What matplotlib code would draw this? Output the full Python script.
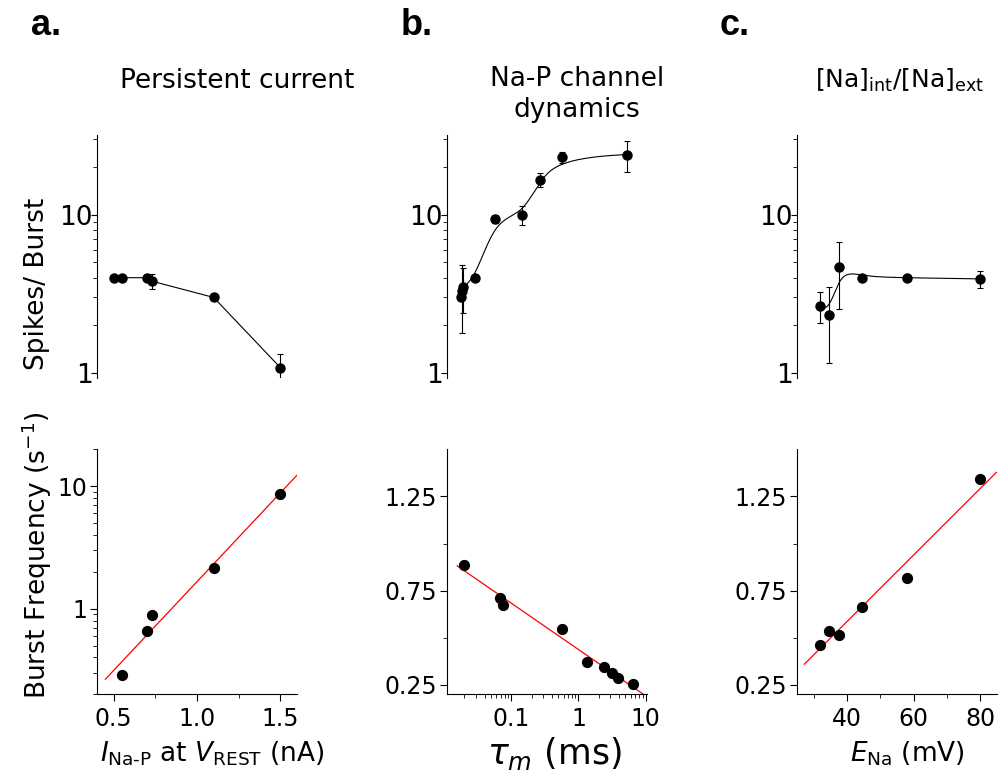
import numpy as np
import matplotlib
matplotlib.use("Agg")
import matplotlib.pyplot as plt
from matplotlib.ticker import LogLocator, NullFormatter

# a. persistent current
a_ina = [0.50, 0.55, 0.70, 0.73, 1.10, 1.50]
a_spikes = [4.0, 4.0, 4.0, 3.8, 3.0, 1.08]
a_spikes_err = [0, 0, 0, 0.43, 0, 0.23]
a_ina_f = [0.55, 0.70, 0.73, 1.10, 1.50]
a_freq = [0.29, 0.66, 0.88, 2.13, 8.7]

# b. Na-P channel dynamics (tau_m, ms)
b_tau = [0.018, 0.0185, 0.019, 0.029, 0.058, 0.146, 0.264, 0.56, 5.25]
b_spikes = [3.0, 3.3, 3.5, 4.0, 9.4, 10.0, 16.7, 23.1, 24.0]
b_spikes_err = [0, 1.5, 1.1, 0, 0.5, 1.4, 1.7, 2.0, 5.3]
b_tau_f = [0.0196, 0.0687, 0.0743, 0.56, 1.36, 2.38, 3.13, 3.93, 6.43]
b_freq = [0.888, 0.713, 0.672, 0.547, 0.372, 0.345, 0.314, 0.287, 0.254]

# c. E_Na (mV)
c_ena = [32.0, 34.6, 37.5, 44.5, 58.0, 80.0]
c_spikes = [2.66, 2.33, 4.65, 4.0, 4.0, 3.93]
c_spikes_err = [0.6, 1.17, 2.1, 0, 0, 0.5]
c_ena_f = [32.0, 34.6, 37.6, 44.5, 58.0, 80.0]
c_freq = [0.464, 0.538, 0.517, 0.663, 0.819, 1.34]


def bspline(px, py, num=400, k=3):
    # clamped uniform cubic B-spline using the points as control points
    px, py = np.asarray(px, float), np.asarray(py, float)
    n = len(px)
    t = np.concatenate([np.zeros(k), np.arange(n - k + 1), np.full(k, n - k)])
    u = np.linspace(0, n - k, num)
    B = np.zeros((num, len(t) - 1))
    for i in range(len(t) - 1):
        B[:, i] = (t[i] <= u) & (u < t[i + 1])
    B[-1, n - 1] = 1
    for d in range(1, k + 1):
        Bn = np.zeros((num, len(t) - 1 - d))
        for i in range(len(t) - 1 - d):
            a = 0 if t[i + d] == t[i] else (u - t[i]) / (t[i + d] - t[i])
            b = 0 if t[i + d + 1] == t[i + 1] else (t[i + d + 1] - u) / (t[i + d + 1] - t[i + 1])
            Bn[:, i] = a * B[:, i] + b * B[:, i + 1]
        B = Bn
    return B @ px, B @ py


plt.rcParams["font.family"] = "DejaVu Sans"
plt.rcParams["axes.linewidth"] = 0.8

fig = plt.figure(figsize=(10, 7.84), dpi=100)
lefts = [0.097, 0.447, 0.797]
w = 0.2
ax_top = [fig.add_axes([l, 0.518, w, 0.310]) for l in lefts]
ax_bot = [fig.add_axes([l, 0.1144, w, 0.3125]) for l in lefts]

xlims = [(0.4, 1.6), (0.011, 10.5), (25, 85)]

pt = dict(fmt="o", color="black", ms=6.5, capsize=2.5, elinewidth=0.8, capthick=0.8, zorder=3)

# top row: spikes per burst
ax = ax_top[0]
ax.plot(a_ina, a_spikes, color="black", lw=0.8)
ax.errorbar(a_ina, a_spikes, yerr=a_spikes_err, **pt)

ax = ax_top[1]
cx, cy = bspline(np.log10(b_tau), np.log10(b_spikes))
ax.plot(10 ** cx, 10 ** cy, color="black", lw=0.8)
ax.errorbar(b_tau, b_spikes, yerr=b_spikes_err, **pt)
ax.set_xscale("log")

ax = ax_top[2]
cx, cy = bspline(c_ena, np.log10(c_spikes))
ax.plot(cx, 10 ** cy, color="black", lw=0.8)
ax.errorbar(c_ena, c_spikes, yerr=c_spikes_err, **pt)

for ax, xl in zip(ax_top, xlims):
    ax.set_yscale("log")
    ax.set_ylim(0.93, 32)
    ax.set_xlim(*xl)
    ax.set_yticks([1, 10], labels=["1", "10"])
    ax.yaxis.set_minor_locator(LogLocator(base=10, subs=np.arange(2, 10), numticks=20))
    ax.yaxis.set_minor_formatter(NullFormatter())
    for s in ["top", "right", "bottom"]:
        ax.spines[s].set_visible(False)
    ax.xaxis.set_visible(False)
    ax.tick_params(axis="y", which="major", length=4, width=0.8, labelsize=19, pad=-1)
    ax.tick_params(axis="y", which="minor", length=3, width=0.6)

# bottom row: burst frequency with regression lines
ax = ax_bot[0]
ax.scatter(a_ina_f, a_freq, s=50, color="black", zorder=3)
fa = np.polyfit(a_ina_f, np.log10(a_freq), 1)
xs = np.linspace(0.45, 1.6, 50)
ax.plot(xs, 10 ** np.polyval(fa, xs), color="red", lw=0.9)
ax.set_yscale("log")
ax.set_ylim(0.2, 20)
ax.set_yticks([1, 10], labels=["1", "10"])
ax.yaxis.set_minor_locator(LogLocator(base=10, subs=np.arange(2, 10), numticks=20))
ax.yaxis.set_minor_formatter(NullFormatter())
ax.set_xticks([0.5, 1.0, 1.5], labels=["0.5", "1.0", "1.5"])
ax.set_xticks([0.75, 1.25], minor=True)

ax = ax_bot[1]
ax.scatter(b_tau_f, b_freq, s=50, color="black", zorder=3)
fb = np.polyfit(np.log10(b_tau_f), b_freq, 1)
xs = np.logspace(np.log10(0.0156), np.log10(9.6), 50)
ax.plot(xs, np.polyval(fb, np.log10(xs)), color="red", lw=0.9)
ax.set_xscale("log")
ax.set_xticks([0.1, 1, 10], labels=["0.1", "1", "10"])
ax.xaxis.set_minor_locator(LogLocator(base=10, subs=np.arange(2, 10), numticks=20))
ax.xaxis.set_minor_formatter(NullFormatter())

ax = ax_bot[2]
ax.scatter(c_ena_f, c_freq, s=50, color="black", zorder=3)
fc = np.polyfit(c_ena_f, c_freq, 1)
xs = np.linspace(27.2, 84.8, 50)
ax.plot(xs, np.polyval(fc, xs), color="red", lw=0.9)
ax.set_xticks([40, 60, 80])
ax.set_xticks([30, 50, 70], minor=True)

for ax in ax_bot[1:]:
    ax.set_ylim(0.2, 1.5)
    ax.set_yticks([0.25, 0.75, 1.25], labels=["0.25", "0.75", "1.25"])
    ax.set_yticks([0.5, 1.0], minor=True)

for ax, xl in zip(ax_bot, xlims):
    ax.set_xlim(*xl)
    for s in ["top", "right"]:
        ax.spines[s].set_visible(False)
    ax.tick_params(which="major", length=5, width=0.8, labelsize=17, pad=2)
    ax.tick_params(which="minor", length=3, width=0.6)
    ax.tick_params(axis="x", which="major", pad=4)

# axis labels
fig.text(0.037, 1 - 284 / 784, "Spikes/ Burst", rotation=90, ha="center", va="center", fontsize=19)
fig.text(0.037, 1 - 555 / 784, "Burst Frequency (s$^{-1}$)", rotation=90, ha="center", va="center", fontsize=19)
fig.text(0.212, 1 - 754 / 784, r"$I_{\mathregular{Na\text{-}P}}$ at $V_{\mathregular{REST}}$ (nA)",
         ha="center", va="center", fontsize=19)
fig.text(0.554, 1 - 754 / 784, r"$\tau_{m}$ (ms)", ha="center", va="center", fontsize=25)
fig.text(0.907, 1 - 754 / 784, r"$E_{\mathregular{Na}}$ (mV)", ha="center", va="center", fontsize=19)

# titles
fig.text(0.237, 1 - 88 / 784, "Persistent current", ha="center", va="baseline", fontsize=19)
fig.text(0.577, 1 - 66 / 784, "Na-P channel\ndynamics", ha="center", va="top", fontsize=19,
         linespacing=1.25)
fig.text(0.900, 1 - 88 / 784, r"[Na]$_{\mathregular{int}}$/[Na]$_{\mathregular{ext}}$",
         ha="center", va="baseline", fontsize=18)

# panel letters
for x, lab in zip([0.031, 0.401, 0.720], ["a.", "b.", "c."]):
    fig.text(x, 1 - 35 / 784, lab, ha="left", va="baseline", fontsize=26,
             fontweight="bold", family="Liberation Sans")

fig.savefig("out.png", dpi=100)
